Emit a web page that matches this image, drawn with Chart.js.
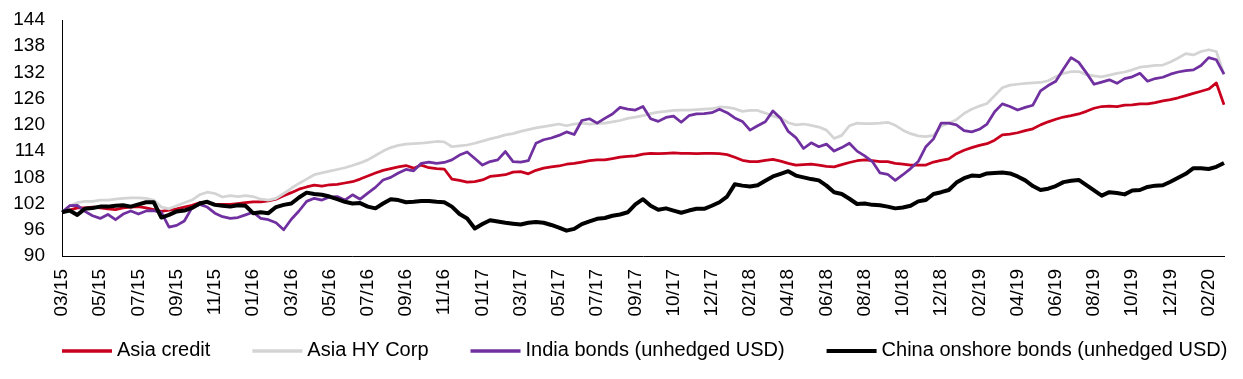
<!DOCTYPE html>
<html>
<head>
<meta charset="utf-8">
<script src="https://cdn.jsdelivr.net/npm/chart.js@4.4.1/dist/chart.umd.min.js"></script>
<style>
  html, body { margin: 0; padding: 0; background: #ffffff; }
  #wrap { width: 1243px; height: 379px; }
</style>
</head>
<body>
<div id="wrap"><canvas id="c" width="1243" height="379"></canvas></div>
<script>
// ---- Data ----
const tickLabels = ['03/15','05/15','07/15','09/15','11/15','01/16','03/16','05/16','07/16','09/16','11/16',
  '01/17','03/17','05/17','07/17','09/17','10/17','12/17','02/18','04/18','06/18','08/18','10/18','12/18',
  '02/19','04/19','06/19','08/19','10/19','12/19','02/20'];
const pointsPerTick = 5;

const asiaCredit = [
  100, 100.5, 101.0, 101.0, 101.2, 101.0, 100.8, 100.6, 101.0, 101.2,
  101.3, 101.0, 100.6, 100.2, 100.5, 100.8, 101.2, 101.6, 102.2, 102.2,
  101.8, 101.8, 101.8, 102.0, 102.2, 102.4, 102.4, 102.6, 103.0, 103.8,
  104.5, 105.3, 105.8, 106.2,
  106.0, 106.3, 106.4, 106.7, 107.0, 107.6, 108.3, 109.0, 109.6, 110.0,
  110.4, 110.7, 110.1, 110.8, 110.2, 110.0, 109.9, 107.6, 107.3, 106.9,
  107.0, 107.4, 108.2, 108.4, 108.6, 109.2, 109.3, 108.8, 109.6, 110.1,
  110.4, 110.6, 111.0, 111.2, 111.5, 111.8, 112.0,
  112.0, 112.3, 112.6, 112.8, 112.9, 113.3, 113.5, 113.4, 113.5, 113.6,
  113.5, 113.5, 113.4, 113.5, 113.5, 113.4, 113.2, 112.6, 111.9, 111.6,
  111.6, 111.9, 112.1, 111.7, 111.2, 110.8, 110.9, 111.0, 110.8, 110.5,
  110.4, 110.9, 111.4, 111.8, 112.0, 111.8, 111.6, 111.6, 111.2,
  111.0, 110.8, 110.8, 110.8, 111.5, 111.9, 112.2, 113.4, 114.2, 114.8,
  115.3, 115.7, 116.5, 117.7, 117.9, 118.2, 118.7, 119.1, 120.0, 120.7,
  121.3, 121.8, 122.1, 122.5, 123.1, 123.8, 124.2, 124.3, 124.2, 124.5,
  124.6, 124.8, 124.8, 125.1, 125.5, 125.8, 126.2, 126.7, 127.2, 127.7,
  128.2, 129.6, 124.6
];

const asiaHYCorp = [
  100, 101.5, 102.2, 102.5, 102.5, 102.8, 102.8, 103.0, 103.2, 103.3,
  103.3, 103.2, 102.8, 101.2, 100.8, 101.5, 102.2, 102.8, 104.0, 104.6,
  104.3, 103.5, 103.8, 103.6, 103.8, 103.6, 103.0, 102.8, 103.2, 104.3,
  105.5, 106.6, 107.6, 108.6,
  109.0, 109.4, 109.8, 110.2, 110.7, 111.3, 112.0, 113.0, 114.0, 114.8,
  115.3, 115.6, 115.7, 115.8, 116.0, 116.2, 116.1, 115.0, 115.2, 115.4,
  115.8, 116.3, 116.8, 117.2, 117.7, 118.0, 118.5, 118.9, 119.3, 119.6,
  119.9, 120.2, 119.8, 120.2, 120.4, 120.2, 120.3,
  120.4, 120.7, 121.0, 121.5, 121.8, 122.1, 122.6, 122.9, 123.1, 123.3,
  123.4, 123.4, 123.5, 123.6, 123.7, 124.1, 124.0, 123.7, 123.1, 123.3,
  123.3, 122.7, 122.0, 121.6, 120.5, 120.0, 120.2, 119.9, 119.5, 118.8,
  116.9, 117.6, 119.8, 120.4, 120.3, 120.3, 120.4, 120.6, 119.9,
  118.8, 118.0, 117.5, 117.3, 117.6, 119.7, 120.4, 121.2, 122.6, 123.6,
  124.3, 124.9, 126.7, 128.5, 129.1, 129.3, 129.5, 129.6, 129.7, 130.1,
  131.0, 131.8, 132.2, 132.2, 131.5, 131.2, 131.0, 131.4, 131.8, 132.1,
  132.6, 133.2, 133.4, 133.6, 133.7, 134.4, 135.3, 136.3, 136.0, 136.8,
  137.2, 136.8, 131.5
];

const indiaBonds = [
  100, 101.5, 101.6, 100.2, 99.2, 98.6, 99.5, 98.3, 99.6, 100.3,
  99.6, 100.3, 100.4, 100.0, 96.6, 97.0, 98.0, 101.0, 101.8, 101.2,
  99.8, 99.0, 98.6, 98.8, 99.4, 100.0, 98.6, 98.3, 97.6, 96.0,
  98.4, 100.3, 102.5, 103.2,
  102.8, 103.5, 103.6, 102.8, 104.0, 103.0, 104.4, 105.7, 107.4, 108.0,
  109.0, 109.8, 109.5, 111.2, 111.5, 111.2, 111.4, 112.0, 113.1, 113.8,
  112.3, 110.8, 111.6, 112.0, 113.9, 111.6, 111.5, 111.8, 115.8, 116.6,
  117.0, 117.6, 118.4, 117.8, 121.0, 121.4, 120.4,
  121.5, 122.5, 124.0, 123.6, 123.4, 124.2, 121.4, 120.8, 121.7, 122.0,
  120.6, 122.1, 122.5, 122.6, 122.8, 123.6, 122.8, 121.6, 120.8, 118.8,
  119.8, 120.7, 123.2, 121.5, 118.5, 117.1, 114.6, 115.9, 115.0, 115.6,
  114.0, 114.8, 115.8, 114.0, 112.9, 111.6, 109.0, 108.7, 107.3,
  108.6, 110.0, 111.6, 115.0, 116.8, 120.4, 120.4, 120.0, 118.7, 118.4,
  119.0, 120.2, 123.0, 124.8, 124.2, 123.4, 124.0, 124.5, 127.8, 129.0,
  130.0, 132.8, 135.4, 134.3, 131.9, 129.3, 129.8, 130.3, 129.5, 130.6,
  131.0, 131.8, 130.0, 130.6, 130.9, 131.6, 132.1, 132.4, 132.6, 133.6,
  135.4, 134.9, 131.6
];

const chinaOnshore = [
  100, 100.4, 99.4, 100.8, 101.0, 101.3, 101.3, 101.5, 101.6, 101.3,
  101.8, 102.3, 102.3, 98.8, 99.4, 100.2, 100.4, 101.0, 102.0, 102.4,
  101.7, 101.5, 101.3, 101.6, 101.5, 99.8, 100.0, 99.8, 101.2, 101.7,
  102.0, 103.4, 104.5, 104.2,
  104.0, 103.6, 103.0, 102.4, 102.0, 102.1, 101.3, 100.9, 102.0, 103.0,
  102.8, 102.3, 102.4, 102.6, 102.6, 102.4, 102.3, 101.3, 99.6, 98.6,
  96.3, 97.3, 98.2, 97.9, 97.6, 97.4, 97.2, 97.6, 97.8, 97.6,
  97.1, 96.5, 95.8, 96.2, 97.3, 97.9, 98.5,
  98.7, 99.2, 99.5, 100.0, 101.8, 103.0, 101.5, 100.6, 100.9, 100.4,
  99.9, 100.4, 100.8, 100.8, 101.5, 102.3, 103.6, 106.4, 106.1, 105.9,
  106.2, 107.2, 108.2, 108.8, 109.4, 108.4, 108.0, 107.6, 107.3, 106.1,
  104.6, 104.2, 103.1, 101.9, 102.0, 101.7, 101.6, 101.3, 100.9,
  101.1, 101.5, 102.5, 102.8, 104.2, 104.6, 105.1, 106.8, 107.8, 108.4,
  108.3, 108.9, 109.0, 109.1, 108.9, 108.2, 107.3, 106.0, 105.1, 105.4,
  106.0, 106.9, 107.2, 107.4, 106.2, 105.0, 103.8, 104.6, 104.4, 104.1,
  105.0, 105.1, 105.8, 106.1, 106.2, 107.0, 107.9, 108.8, 110.1, 110.1,
  109.9, 110.4, 111.3
];

const seriesNames = ['Asia credit', 'Asia HY Corp', 'India bonds (unhedged USD)', 'China onshore bonds (unhedged USD)'];
const yMin = 90, yMax = 144, yStep = 6;

// category labels: a tick label every pointsPerTick points
const categories = asiaCredit.map((_, i) => (i % pointsPerTick === 0 ? (tickLabels[i / pointsPerTick] || '') : ''));

const FONT = '"Liberation Sans", Arial, Helvetica, sans-serif';
Chart.defaults.font.family = FONT;
Chart.defaults.color = '#000000';

const styles = [
  { color: '#C8001E', width: 2.75 },
  { color: '#D4D4D4', width: 2.75 },
  { color: '#7030A0', width: 2.75 },
  { color: '#000000', width: 4 }
];
const seriesData = [asiaCredit, asiaHYCorp, indiaBonds, chinaOnshore];

const legendPlugin = {
  id: 'customLegend',
  afterDraw(chart) {
    const ctx = chart.ctx;
    const area = chart.chartArea;
    ctx.save();
    ctx.font = '20px ' + FONT;
    ctx.textBaseline = 'middle';
    ctx.textAlign = 'left';
    const y = 350;
    const lineLen = 50, gapText = 5, gapItem = 42;
    let x = area.left;
    chart.data.datasets.forEach((ds) => {
      ctx.strokeStyle = ds.borderColor;
      ctx.lineWidth = ds.label.indexOf('China') === 0 ? 4 : 3.5;
      ctx.beginPath();
      ctx.moveTo(x, y + 1);
      ctx.lineTo(x + lineLen, y + 1);
      ctx.stroke();
      x += lineLen + gapText;
      ctx.fillStyle = '#000000';
      ctx.fillText(ds.label, x, y);
      x += ctx.measureText(ds.label).width + gapItem;
    });
    ctx.restore();
  }
};

new Chart(document.getElementById('c'), {
  type: 'line',
  data: {
    labels: categories,
    datasets: seriesData.map((d, k) => ({
      label: seriesNames[k],
      data: d,
      borderColor: styles[k].color,
      backgroundColor: styles[k].color,
      borderWidth: styles[k].width,
      pointRadius: 0,
      tension: 0,
      fill: false,
      order: seriesData.length - k,
      borderJoinStyle: 'round'
    }))
  },
  options: {
    responsive: false,
    animation: false,
    layout: { padding: { left: 13, right: 19, top: 20, bottom: 61 } },
    plugins: { legend: { display: false }, tooltip: { enabled: false } },
    scales: {
      x: {
        type: 'category',
        offset: false,
        grid: { display: false, drawTicks: false },
        border: { display: true, color: '#000000', width: 1 },
        afterFit(scale) {
          scale.height = 62;
          scale.paddingLeft = 0;
          scale.paddingRight = 0;
        },
        ticks: {
          autoSkip: false,
          minRotation: 90,
          maxRotation: 90,
          padding: 13,
          font: { size: 19, family: FONT },
          color: '#000000'
        }
      },
      y: {
        min: yMin,
        max: yMax,
        grid: { display: false, drawTicks: false },
        border: { display: true, color: '#000000', width: 1 },
        afterFit(scale) {
          scale.width = 49;
          scale.paddingTop = 0;
          scale.paddingBottom = 0;
        },
        ticks: {
          autoSkip: false,
          stepSize: yStep,
          padding: 17,
          font: { size: 19, family: FONT },
          color: '#000000'
        }
      }
    }
  },
  plugins: [legendPlugin]
});
</script>
</body>
</html>
